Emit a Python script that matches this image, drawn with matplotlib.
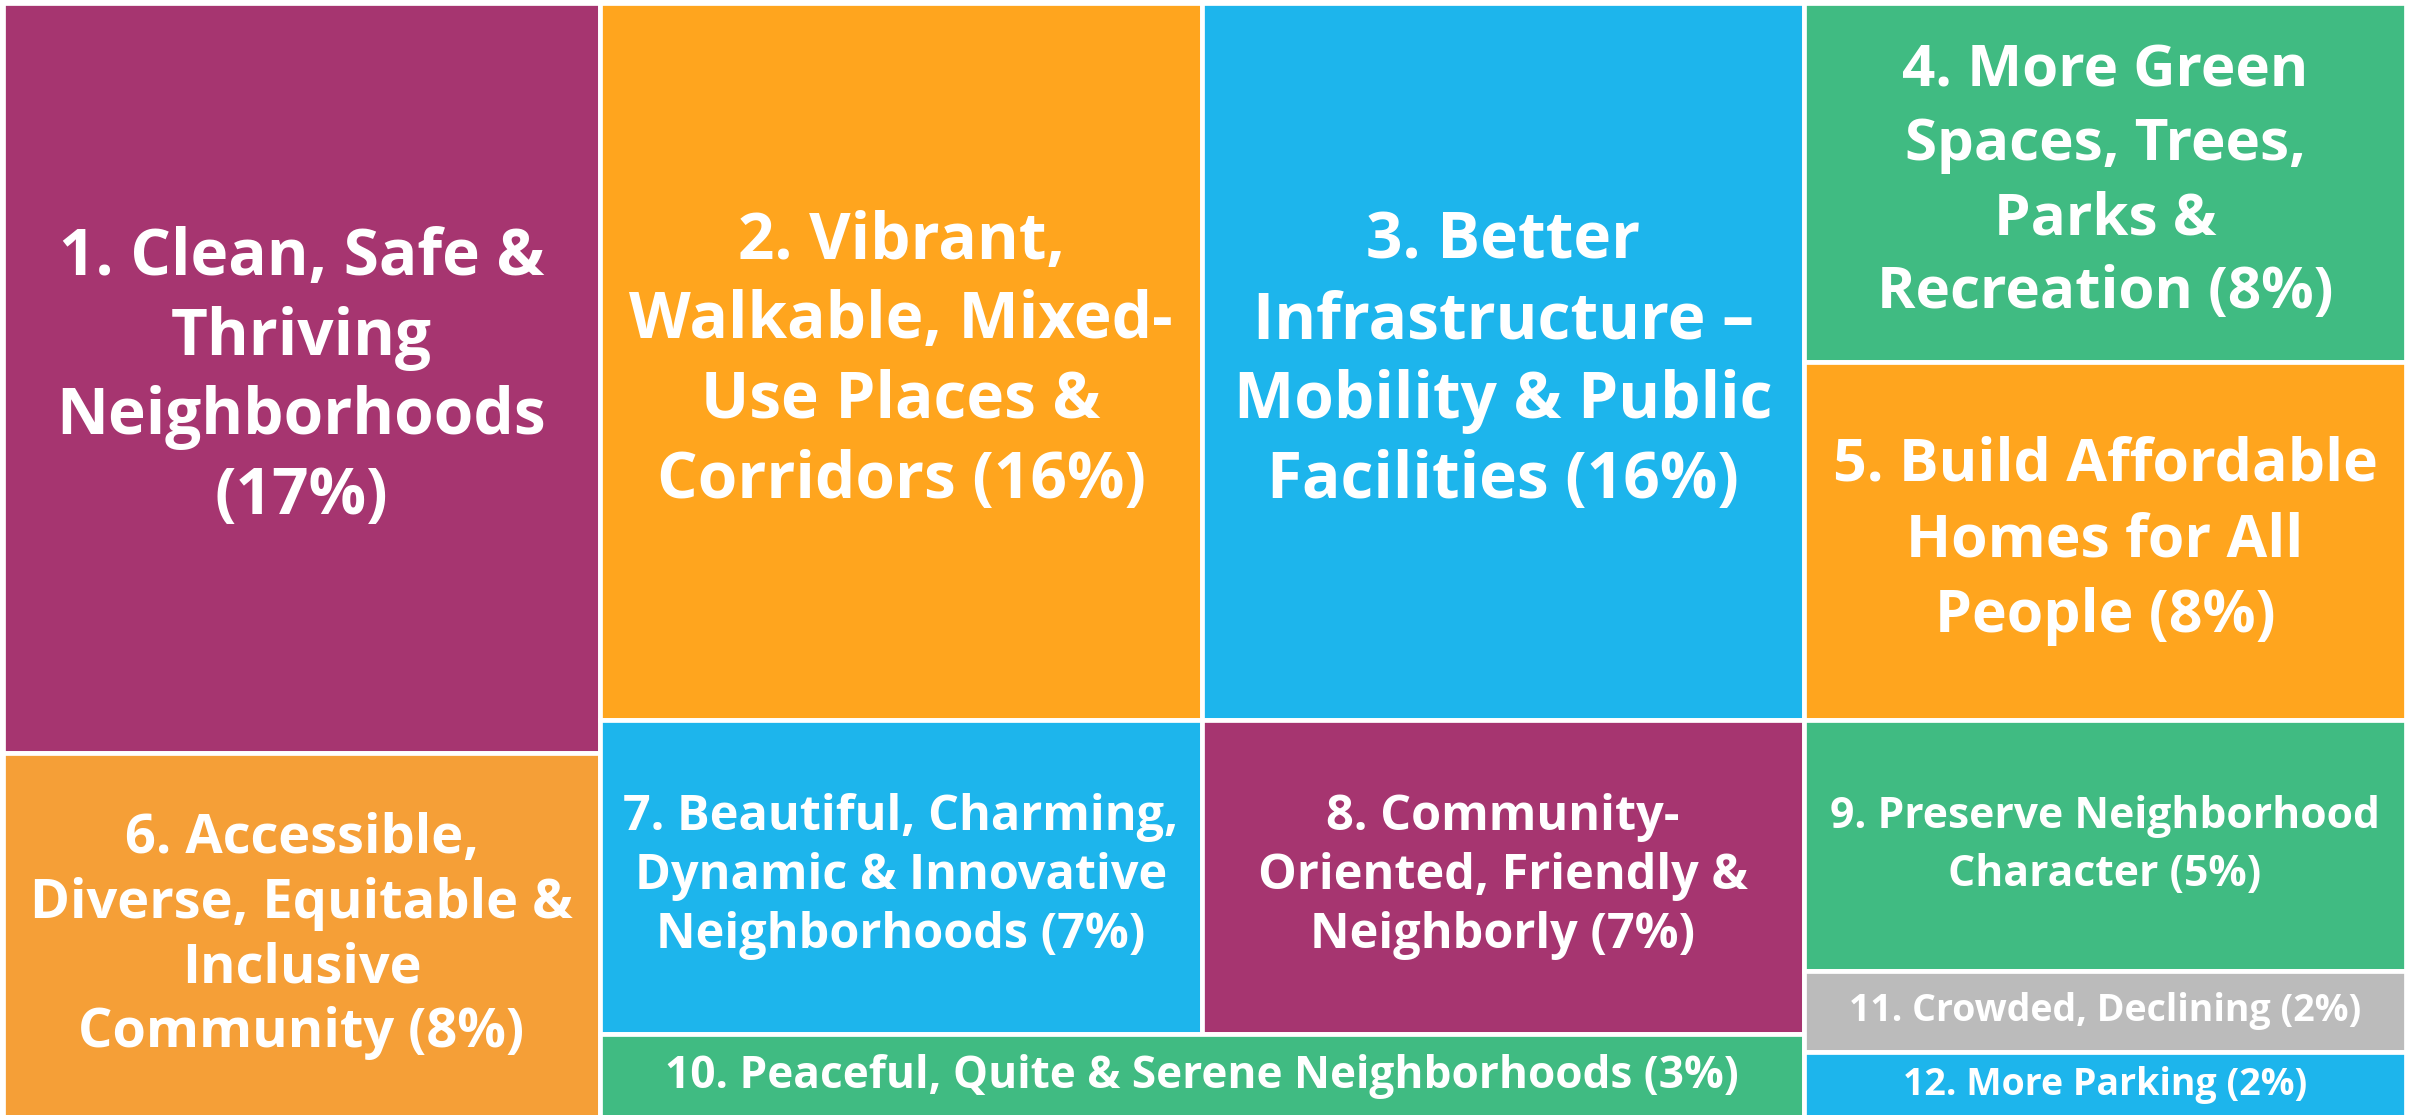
import matplotlib
matplotlib.use("Agg")
import matplotlib.pyplot as plt
from matplotlib.patches import Rectangle

# ---- data -------------------------------------------------------------
labels = [
    "1. Clean, Safe &\nThriving\nNeighborhoods\n(17%)",
    "2. Vibrant,\nWalkable, Mixed-\nUse Places &\nCorridors (16%)",
    "3. Better\nInfrastructure –\nMobility & Public\nFacilities (16%)",
    "4. More Green\nSpaces, Trees,\nParks &\nRecreation (8%)",
    "5. Build Affordable\nHomes for All\nPeople (8%)",
    "6. Accessible,\nDiverse, Equitable &\nInclusive\nCommunity (8%)",
    "7. Beautiful, Charming,\nDynamic & Innovative\nNeighborhoods (7%)",
    "8. Community-\nOriented, Friendly &\nNeighborly (7%)",
    "9. Preserve Neighborhood\nCharacter (5%)",
    "10. Peaceful, Quite & Serene Neighborhoods (3%)",
    "11. Crowded, Declining (2%)",
    "12. More Parking (2%)",
]
# area shares (labels show the rounded %)
values = [16.6, 16.0, 16.0, 8.0, 8.0, 8.1, 7.0, 7.0, 5.6, 3.8, 1.8, 1.5]

# layout grouping: columns -> rows -> cells (indices into the lists above)
layout_groups = [
    [[0], [5]],
    [[1, 2], [6, 7], [9]],
    [[3], [4], [8], [10], [11]],
]

# ---- style ------------------------------------------------------------
MAG = "#A63570"
ORA = "#FFA51E"
ORA2 = "#F59F37"
BLU = "#1DB5EC"
GRN = "#40BB82"
GRY = "#BBBBBB"
colors = [MAG, ORA, BLU, GRN, ORA, ORA2, BLU, MAG, GRN, GRN, GRY, BLU]
fontsizes = [46, 46, 46, 42, 42.5, 39, 35, 35, 30.7, 31.8, 27, 27]
linespacings = [1.30, 1.30, 1.30, 1.36, 1.38, 1.26, 1.27, 1.27, 1.47, 1.3, 1.3, 1.3]

W, H = 2412, 1115
fig = plt.figure(figsize=(W / 100, H / 100), dpi=100)
fig.patch.set_facecolor("white")
ax = fig.add_axes([3 / W, -4 / H, (2406 - 3) / W, (1115 - 3 + 4) / H])
ax.set_xlim(0, 1)
ax.set_ylim(1, 0)
ax.axis("off")

# ---- slice-and-dice layout computed from the values ---------------------
total = sum(values)
rects = {}
x = 0.0
for col in layout_groups:
    col_sum = sum(values[i] for row in col for i in row)
    cw = col_sum / total
    y = 0.0
    for row in col:
        row_sum = sum(values[i] for i in row)
        rh = row_sum / col_sum
        xx = x
        for i in row:
            w = cw * values[i] / row_sum
            rects[i] = (xx, y, w, rh)
            xx += w
        y += rh
    x += cw

for i, (rx, ry, rw, rh) in rects.items():
    ax.add_patch(Rectangle((rx, ry), rw, rh, facecolor=colors[i],
                           edgecolor="white", linewidth=3.4))
    ax.text(rx + rw / 2, ry + rh / 2, labels[i], ha="center", va="center",
            color="white", fontsize=fontsizes[i], fontweight="bold",
            family=["Open Sans", "DejaVu Sans"], linespacing=linespacings[i],
            multialignment="center")

fig.savefig("out.png", dpi=100, facecolor="white")
